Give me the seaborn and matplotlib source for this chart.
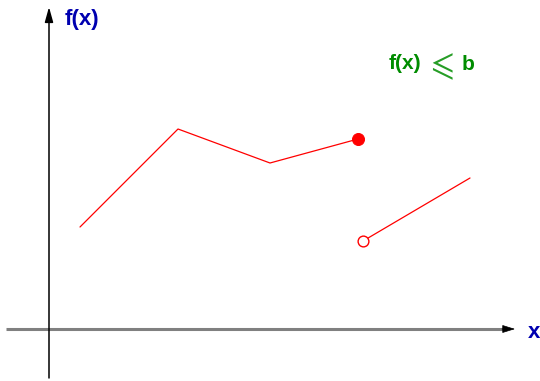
import matplotlib
matplotlib.use("Agg")
import matplotlib.pyplot as plt
import pandas as pd
import seaborn as sns

# Piecewise function: left branch ends in a closed dot, right branch starts with an open dot
left_x = [3.1, 12.9, 22.1, 30.9]
left_y = [10.2, 20.0, 16.6, 19.0]
right_x = [31.4, 42.1]
right_y = [8.8, 15.1]

sns.set_style("white")
plt.rcParams["font.family"] = ["Liberation Sans", "DejaVu Sans"]

fig = plt.figure(figsize=(5.4, 3.81), dpi=100)
ax = fig.add_axes([0, 0, 1, 1])
ax.set_xlim(-4.9, 49.1)
ax.set_ylim(-5.2, 32.9)
ax.axis("off")

left = pd.DataFrame({"x": left_x, "y": left_y})
right = pd.DataFrame({"x": right_x, "y": right_y})

sns.lineplot(data=left, x="x", y="y", color="red", lw=0.9, ax=ax, sort=False)
sns.lineplot(data=right, x="x", y="y", color="red", lw=0.9, ax=ax, sort=False)
sns.scatterplot(x=[left_x[-1]], y=[left_y[-1]], color="red", s=75, edgecolor="red", ax=ax, zorder=5)
sns.scatterplot(x=[right_x[0]], y=[right_y[0]], facecolor="white", edgecolor="red",
                s=60, linewidth=1.0, ax=ax, zorder=5)

# Horizontal axis: grey shaft, black arrow head
ax.plot([-4.3, 45.4], [0, 0], color="#808080", lw=2.2, solid_capstyle="butt")
ax.annotate("", xy=(46.6, 0), xytext=(45.3, 0),
            arrowprops=dict(arrowstyle="-|>,head_length=0.8,head_width=0.25",
                            color="black", lw=0.5, shrinkA=0, shrinkB=0))
# Vertical axis
ax.annotate("", xy=(0, 32.2), xytext=(0, -4.9),
            arrowprops=dict(arrowstyle="-|>,head_length=0.9,head_width=0.25",
                            color="black", lw=1.1, shrinkA=0, shrinkB=0))

ax.text(1.6, 30.9, "f(x)", color="#0000b0", fontsize=16, fontweight="bold",
        ha="left", va="center")
ax.text(48.5, -0.4, "x", color="#0000b0", fontsize=16, fontweight="bold",
        ha="center", va="center")
ax.text(34.0, 26.0, "f(x)", color="#008c00", fontsize=15, fontweight="bold",
        ha="left", va="baseline")
ax.text(37.6, 25.4, r"$\leqslant$", color="#008c00", fontsize=25,
        math_fontfamily="stix", ha="left", va="baseline", alpha=0.85)
ax.text(41.3, 25.9, "b", color="#008c00", fontsize=15, fontweight="bold",
        ha="left", va="baseline")

fig.savefig("out.png", dpi=100)
